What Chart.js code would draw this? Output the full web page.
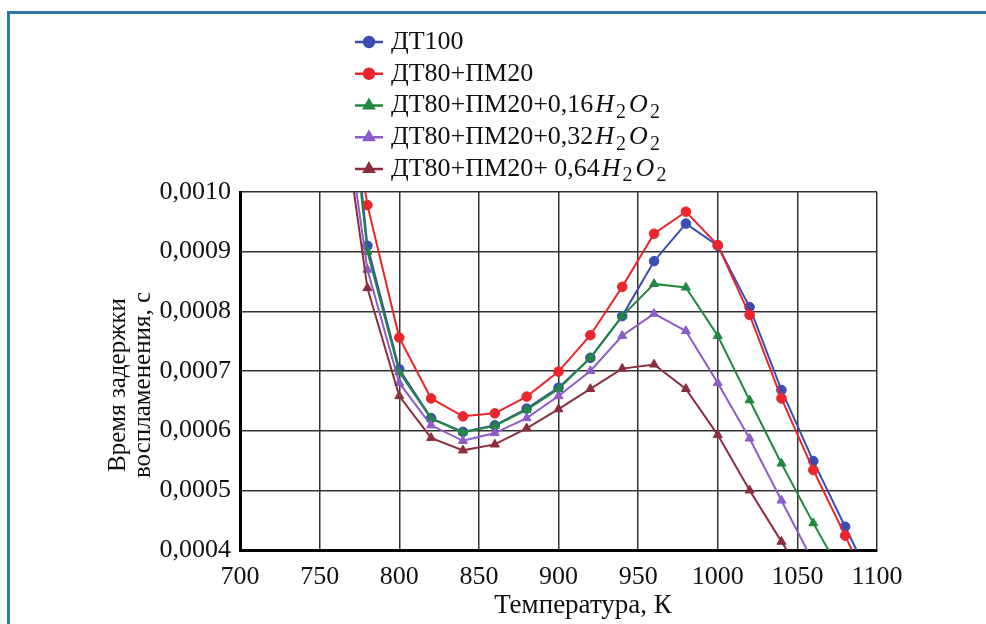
<!DOCTYPE html>
<html>
<head>
<meta charset="utf-8">
<script src="https://cdn.jsdelivr.net/npm/chart.js@4/dist/chart.umd.min.js"></script>
<style>
  html, body { margin: 0; padding: 0; background: #ffffff; }
  #wrap { position: relative; width: 986px; height: 624px; overflow: hidden; background: #ffffff; }
  #frame { position: absolute; left: 7px; top: 11px; right: 0; bottom: 0;
           border-top: 3px solid #2e77a7; border-left: 3px solid #2e77a7; }
  #c { position: absolute; left: 0; top: 0; }
</style>
</head>
<body>
<div id="wrap">
  <div id="frame"></div>
  <canvas id="c" width="986" height="624"></canvas>
</div>
<script>
// Ignition delay time vs temperature for diesel / blended fuels
const temperatures = [760, 780, 800, 820, 840, 860, 880, 900, 920, 940, 960, 980, 1000, 1020, 1040, 1060, 1080, 1100];

const dt100      = [0.00143, 0.00091, 0.000703, 0.000621, 0.000598, 0.000609, 0.000637, 0.000672, 0.000722, 0.000792, 0.000884, 0.000947, 0.00091, 0.000807, 0.000668, 0.000549, 0.000439, 0.00033];
const dt80pm20   = [0.00132, 0.000978, 0.000756, 0.000654, 0.000624, 0.000629, 0.000657, 0.000699, 0.00076, 0.000841, 0.00093, 0.000967, 0.000911, 0.000794, 0.000654, 0.000534, 0.000424, 0.00031];
const dtpmH016   = [0.00140, 0.0009, 0.000698, 0.00062, 0.000597, 0.000608, 0.000635, 0.00067, 0.000722, 0.000792, 0.000846, 0.00084, 0.000759, 0.000651, 0.000545, 0.000445, 0.00035];
const dtpmH032   = [0.00125, 0.00087, 0.00068, 0.000609, 0.000583, 0.000596, 0.000621, 0.000658, 0.0007, 0.000759, 0.000796, 0.000767, 0.00068, 0.000587, 0.000483, 0.00038];
const dtpmH064   = [0.00122, 0.000839, 0.000658, 0.000588, 0.000567, 0.000577, 0.000604, 0.000636, 0.00067, 0.000704, 0.000711, 0.00067, 0.000593, 0.0005, 0.000414, 0.00033];

const seriesNames = ['ДТ100', 'ДТ80+ПМ20', 'ДТ80+ПМ20+0,16H₂O₂', 'ДТ80+ПМ20+0,32H₂O₂', 'ДТ80+ПМ20+ 0,64H₂O₂'];
const seriesColors = ['#3b4db4', '#e8262c', '#21893e', '#8c5cc8', '#8b2e3e'];
const seriesMarkers = ['circle', 'circle', 'triangle', 'triangle', 'triangle'];

const xTickValues = [700, 750, 800, 850, 900, 950, 1000, 1050, 1100];
const yTickValues = [0.0004, 0.0005, 0.0006, 0.0007, 0.0008, 0.0009, 0.0010];

const yTitle = ['Время задержки', 'воспламенения, с'];
const xTitle = 'Температура, К';

const FONT = '"Liberation Serif", "Times New Roman", serif';

function toPoints(values) {
  return values.map((v, i) => ({ x: temperatures[i], y: v }));
}

const seriesValues = [dt100, dt80pm20, dtpmH016, dtpmH032, dtpmH064];
// lower "order" draws on top; keep ДТ100 at the back
const drawOrder = [5, 4, 3, 2, 1];

const datasets = seriesValues.map((vals, i) => ({
  label: seriesNames[i],
  data: toPoints(vals),
  borderColor: seriesColors[i],
  backgroundColor: seriesColors[i],
  pointBackgroundColor: seriesColors[i],
  pointBorderColor: seriesColors[i],
  pointStyle: seriesMarkers[i],
  pointRadius: seriesMarkers[i] === 'circle' ? 4.8 : 5.2,
  pointBorderWidth: 1,
  borderWidth: 2,
  tension: 0,
  order: drawOrder[i]
}));

// Legend drawn manually so the formula can use italic letters and subscripts
const formulaLegend = {
  id: 'formulaLegend',
  afterDraw(chart) {
    const ctx = chart.ctx;
    const x0 = 355, x1 = 383, textX = 391, top = 42, step = 31.75;
    const size = 26;
    chart.data.datasets.forEach((ds, i) => {
      const y = top + i * step;
      ctx.save();
      ctx.strokeStyle = ds.borderColor;
      ctx.fillStyle = ds.borderColor;
      ctx.lineWidth = 2.5;
      ctx.beginPath();
      ctx.moveTo(x0, y);
      ctx.lineTo(x1, y);
      ctx.stroke();
      Chart.helpers.drawPoint(ctx, {
        pointStyle: ds.pointStyle, rotation: 0,
        radius: ds.pointStyle === 'circle' ? 5 : 5.5, borderWidth: 1
      }, (x0 + x1) / 2, y);

      ctx.fillStyle = '#111';
      ctx.textBaseline = 'middle';
      ctx.textAlign = 'left';
      let x = textX;
      for (const ch of ds.label) {
        const subIdx = '₀₁₂₃₄₅₆₇₈₉'.indexOf(ch);
        if (subIdx >= 0) {
          ctx.font = `${Math.round(size * 0.76)}px ${FONT}`;
          ctx.fillText(String(subIdx), x + 1, y + 7);
          x += ctx.measureText(String(subIdx)).width + 2;
        } else if (/[A-Za-z]/.test(ch)) {
          x += 2;
          ctx.font = `italic ${size}px ${FONT}`;
          ctx.fillText(ch, x, y);
          x += ctx.measureText(ch).width + 1;
        } else {
          ctx.font = `${size}px ${FONT}`;
          ctx.fillText(ch, x, y);
          x += ctx.measureText(ch).width;
        }
      }
      ctx.restore();
    });
  }
};

// Axis captions: temperature below, two-line delay caption on the left
const axisCaptions = {
  id: 'axisCaptions',
  afterDraw(chart) {
    const ctx = chart.ctx;
    ctx.save();
    ctx.fillStyle = '#111';
    ctx.textAlign = 'center';
    ctx.textBaseline = 'middle';
    ctx.font = `27px ${FONT}`;
    ctx.fillText(xTitle, 583, 606);

    ctx.translate(0, 385);
    ctx.rotate(-Math.PI / 2);
    ctx.font = `25px ${FONT}`;
    ctx.fillText(yTitle[0], 0, 118);
    ctx.fillText(yTitle[1], 0, 143);
    ctx.restore();
  }
};

new Chart(document.getElementById('c'), {
  type: 'line',
  data: { datasets },
  plugins: [formulaLegend, axisCaptions],
  options: {
    responsive: false,
    animation: false,
    devicePixelRatio: 1,
    layout: { padding: { top: 192, right: 109, bottom: 0, left: 0 } },
    plugins: { legend: { display: false }, tooltip: { enabled: false } },
    scales: {
      x: {
        type: 'linear',
        min: 700, max: 1100,
        afterBuildTicks: s => { s.ticks = xTickValues.map(v => ({ value: v })); },
        afterFit: s => { s.height = 74; },
        grid: { color: '#333', lineWidth: 1.5, drawTicks: false },
        border: { color: '#000', width: 3 },
        ticks: { color: '#111', font: { family: FONT, size: 26 }, padding: 12,
                 maxRotation: 0, autoSkip: false, callback: v => String(v) }
      },
      y: {
        type: 'linear',
        min: 0.0004, max: 0.0010,
        afterBuildTicks: s => { s.ticks = yTickValues.map(v => ({ value: v })); },
        afterFit: s => { s.width = 240; },
        grid: { color: '#333', lineWidth: 1.5, drawTicks: false },
        border: { color: '#000', width: 3 },
        ticks: { color: '#111', font: { family: FONT, size: 26 }, padding: 9,
                 autoSkip: false, callback: v => v.toFixed(4).replace('.', ',') }
      }
    }
  }
});
</script>
</body>
</html>
